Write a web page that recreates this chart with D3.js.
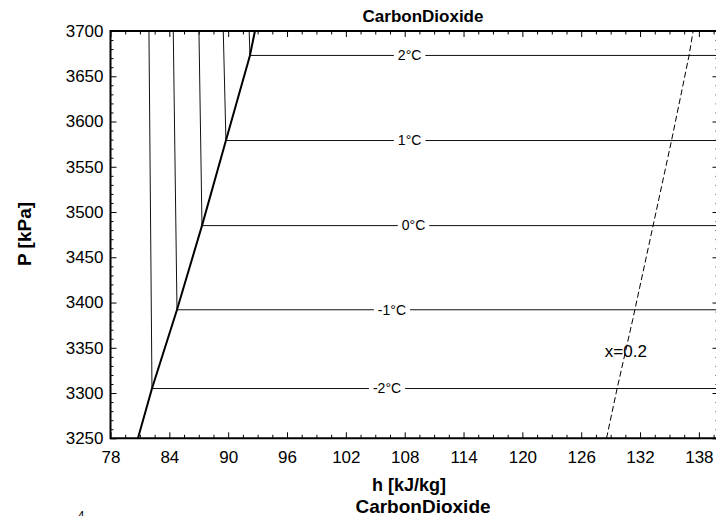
<!DOCTYPE html>
<html>
<head>
<meta charset="utf-8">
<script src="https://cdn.jsdelivr.net/npm/d3@7"></script>
<style>
  html, body { margin: 0; padding: 0; background: #fff; overflow: hidden; }
  text { font-family: "Liberation Sans", Arial, sans-serif; fill: #000; }
</style>
</head>
<body>
<svg id="chart" width="716" height="516"></svg>
<script>
// Saturated liquid line (h in kJ/kg, P in kPa)
const satH = [80.80, 82.23, 84.78, 87.33, 89.77, 92.22, 92.73];
const satP = [3250, 3305, 3392, 3485, 3579, 3673, 3700];

// Isotherms: saturation pressure, h at saturation, h of the liquid branch at the top
const isoLabels = ['-2°C', '-1°C', '0°C', '1°C', '2°C'];
const isoP = [3305, 3392, 3485, 3579, 3673];
const isoSatH = [82.23, 84.78, 87.33, 89.77, 92.22];
const isoTopH = [81.92, 84.40, 87.02, 89.50, 92.14];
const isoLabelH = [106.2, 106.7, 108.9, 108.5, 108.5];

// Quality line x = 0.2
const qualH = [128.58, 129.66, 131.25, 135.21, 137.00, 137.41];
const qualP = [3250, 3305, 3381, 3579, 3673, 3700];

// Axis ticks
const xTicks = [78, 84, 90, 96, 102, 108, 114, 120, 126, 132, 138];
const yTicks = [3250, 3300, 3350, 3400, 3450, 3500, 3550, 3600, 3650, 3700];

const svg = d3.select('#chart');
const plotL = 110.5, plotR = 718.5, plotT = 31, plotB = 438.3;

const x = d3.scaleLinear().domain([78, 140]).range([plotL, plotR]);
const y = d3.scaleLinear().domain([3250, 3700]).range([plotB, plotT]);

const xMinor = d3.range(78, 140.01, 1.5).filter(v => !xTicks.includes(v));
const yMinor = d3.range(3250, 3700.01, 10).filter(v => !yTicks.includes(v));

// ticks (all pointing inward)
function addAxis(axis, tx, ty, labels) {
  const g = svg.append('g').attr('transform', `translate(${tx},${ty})`).call(axis);
  g.select('.domain').remove();
  g.selectAll('line').attr('stroke', '#000').attr('stroke-width', 1);
  if (labels) {
    g.selectAll('text').style('font-size', '17px').style('font-family', '"Liberation Sans", Arial, sans-serif');
  } else {
    g.selectAll('text').remove();
  }
  return g;
}

addAxis(d3.axisBottom(x).tickValues(xTicks).tickSizeInner(-6).tickSizeOuter(0).tickPadding(13).tickFormat(d3.format('d')), 0, plotB, true);
addAxis(d3.axisBottom(x).tickValues(xMinor).tickSizeInner(-3.5).tickSizeOuter(0), 0, plotB, false);
addAxis(d3.axisTop(x).tickValues(xTicks).tickSizeInner(-6).tickSizeOuter(0), 0, plotT, false);
addAxis(d3.axisTop(x).tickValues(xMinor).tickSizeInner(-3.5).tickSizeOuter(0), 0, plotT, false);
addAxis(d3.axisLeft(y).tickValues(yTicks).tickSizeInner(-6).tickSizeOuter(0).tickPadding(7).tickFormat(d3.format('d')), plotL, 0, true);
addAxis(d3.axisLeft(y).tickValues(yMinor).tickSizeInner(-3).tickSizeOuter(0), plotL, 0, false);
addAxis(d3.axisRight(y).tickValues(yTicks).tickSizeInner(-6).tickSizeOuter(0), plotR, 0, false);
addAxis(d3.axisRight(y).tickValues(yMinor).tickSizeInner(-3).tickSizeOuter(0), plotR, 0, false);

const plot = svg.append('g');
const line = d3.line().x(d => x(d[0])).y(d => y(d[1]));

// isotherms: vertical liquid branch + horizontal two-phase line
isoP.forEach((p, i) => {
  plot.append('path')
    .attr('d', line([[isoSatH[i], p], [isoTopH[i], 3700]]))
    .attr('fill', 'none').attr('stroke', '#111').attr('stroke-width', 1);
  plot.append('path')
    .attr('d', line([[isoSatH[i], p], [140, p]]))
    .attr('fill', 'none').attr('stroke', '#111').attr('stroke-width', 1);
});

// quality line
plot.append('path')
  .attr('d', line(qualH.map((h, i) => [h, qualP[i]])))
  .attr('fill', 'none').attr('stroke', '#000').attr('stroke-width', 1)
  .attr('stroke-dasharray', '6,3');

// saturation line
plot.append('path')
  .attr('d', line(satH.map((h, i) => [h, satP[i]])))
  .attr('fill', 'none').attr('stroke', '#000').attr('stroke-width', 2);

// isotherm labels with white gap
isoP.forEach((p, i) => {
  const t = plot.append('text')
    .attr('x', x(isoLabelH[i]))
    .attr('y', y(p))
    .attr('dy', '0.35em')
    .attr('text-anchor', 'middle')
    .style('font-size', '14px')
    .text(isoLabels[i]);
  const bb = t.node().getBBox();
  plot.insert('rect', () => t.node())
    .attr('x', bb.x - 4).attr('y', y(p) - 3)
    .attr('width', bb.width + 8).attr('height', 6)
    .attr('fill', '#fff');
});

plot.append('text')
  .attr('x', x(130.55)).attr('y', y(3340))
  .attr('text-anchor', 'middle')
  .style('font-size', '17px')
  .text('x=0.2');

// frame
svg.append('path')
  .attr('d', `M${plotR},${plotT}H${plotL}V${plotB}H${plotR}`)
  .attr('fill', 'none').attr('stroke', '#000').attr('stroke-width', 2);

// titles
svg.append('text').attr('x', 423).attr('y', 22).attr('text-anchor', 'middle')
  .style('font-size', '17px').style('font-weight', 'bold').text('CarbonDioxide');
svg.append('text').attr('x', 409).attr('y', 491).attr('text-anchor', 'middle')
  .style('font-size', '18px').style('font-weight', 'bold').text('h [kJ/kg]');
svg.append('text').attr('transform', 'translate(31,234) rotate(-90)').attr('text-anchor', 'middle')
  .style('font-size', '19px').style('font-weight', 'bold').text('P [kPa]');

// start of the next chart, cut off at the bottom
svg.append('text').attr('x', 423).attr('y', 513).attr('text-anchor', 'middle')
  .style('font-size', '19px').style('font-weight', 'bold').text('CarbonDioxide');
const sci = svg.append('text').attr('x', 52).attr('y', 528).style('font-size', '16px');
sci.append('tspan').text('x10');
sci.append('tspan').attr('dy', -8).style('font-size', '12px').text('4');
</script>
</body>
</html>
